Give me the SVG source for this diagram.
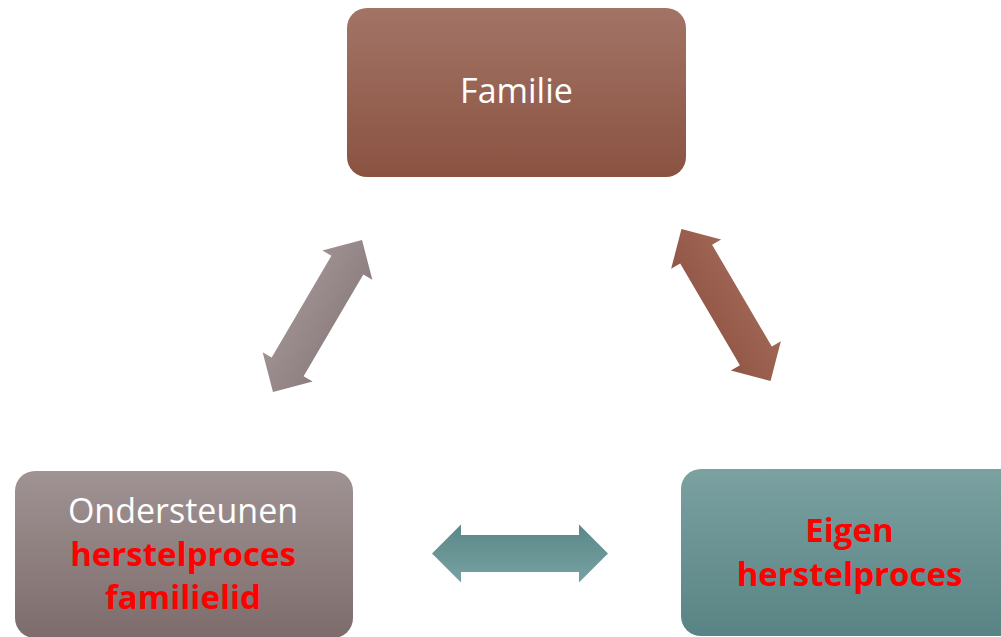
<svg xmlns="http://www.w3.org/2000/svg" width="1001" height="637" viewBox="0 0 1001 637">
  <defs>
    <linearGradient id="gTop" x1="0" y1="0" x2="0" y2="1">
      <stop offset="0" stop-color="#a27466"/>
      <stop offset="1" stop-color="#8b5241"/>
    </linearGradient>
    <linearGradient id="gLeft" x1="0" y1="0" x2="0" y2="1">
      <stop offset="0" stop-color="#a09393"/>
      <stop offset="1" stop-color="#7e6c6c"/>
    </linearGradient>
    <linearGradient id="gRight" x1="0" y1="0" x2="0" y2="1">
      <stop offset="0" stop-color="#7ba1a1"/>
      <stop offset="1" stop-color="#598384"/>
    </linearGradient>
    <linearGradient id="gArrB" x1="0" y1="0" x2="0" y2="1">
      <stop offset="0" stop-color="#5c8788"/>
      <stop offset="1" stop-color="#77a2a2"/>
    </linearGradient>
    <linearGradient id="gArrL" x1="0" y1="0" x2="0" y2="1">
      <stop offset="0" stop-color="#9f9191"/>
      <stop offset="1" stop-color="#8d7f7f"/>
    </linearGradient>
    <linearGradient id="gArrR" x1="0" y1="0" x2="0" y2="1">
      <stop offset="0" stop-color="#a06656"/>
      <stop offset="1" stop-color="#925645"/>
    </linearGradient>
    <path id="dblArrow" d="M-88,0 L-59,-29 L-59,-18.5 L59,-18.5 L59,-29 L88,0 L59,29 L59,18.5 L-59,18.5 L-59,29 Z"/>
  </defs>
  <style>
    .lbl { font-family: "Open Sans", "Liberation Sans", sans-serif; text-anchor: middle; }
    .white { fill: #ffffff; font-size: 34px; }
    .red { fill: #ff0000; font-size: 33px; font-weight: bold; }
  </style>
  <rect width="1001" height="637" fill="#ffffff"/>
  <g id="connectors">
    <use href="#dblArrow" fill="url(#gArrL)" transform="translate(317.5,316) rotate(-59.6)"/>
    <use href="#dblArrow" fill="url(#gArrR)" transform="translate(726,305) rotate(59.6)"/>
    <use href="#dblArrow" fill="url(#gArrB)" transform="translate(520,553.5)"/>
  </g>
  <g id="node-familie">
    <rect x="347" y="8" width="339" height="169" rx="20" fill="url(#gTop)"/>
    <text class="lbl white" x="516.5" y="103">Familie</text>
  </g>
  <g id="node-ondersteunen">
    <rect x="15" y="471" width="338" height="167" rx="20" fill="url(#gLeft)"/>
    <text class="lbl white" x="183" y="523">Ondersteunen</text>
    <text class="lbl red" x="183" y="566">herstelproces</text>
    <text class="lbl red" x="183" y="609">familielid</text>
  </g>
  <g id="node-eigen">
    <rect x="681" y="469" width="338" height="167" rx="20" fill="url(#gRight)"/>
    <text class="lbl red" x="849.5" y="542">Eigen</text>
    <text class="lbl red" x="849.5" y="586">herstelproces</text>
  </g>
</svg>
